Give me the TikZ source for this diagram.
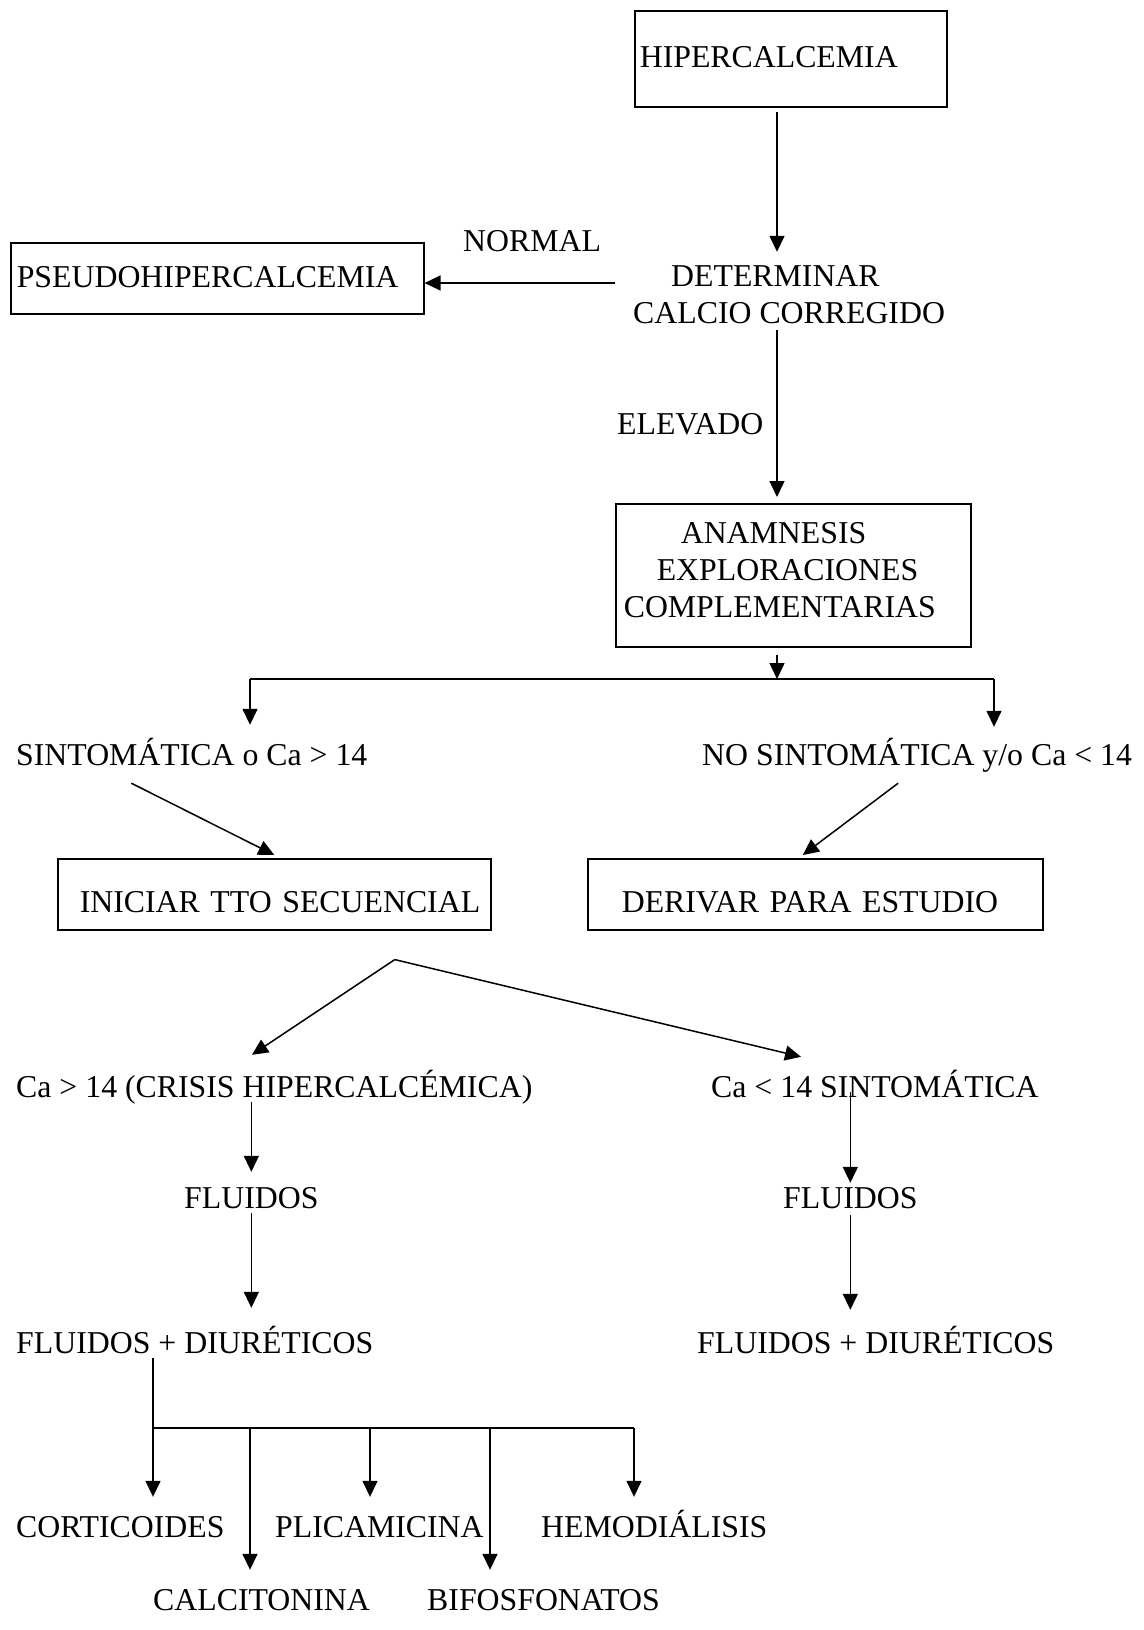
\documentclass[tikz,border=0pt]{standalone}
\usepackage{fontspec}
\setmainfont{Liberation Serif}
\usetikzlibrary{arrows.meta}
\newcommand\myfs{\fontsize{31.8pt}{37pt}\selectfont}
\begin{document}
\begin{tikzpicture}[x=1pt,y=-1pt,
  txt/.style={font=\myfs, inner sep=0pt, anchor=base west, text height=21pt, text depth=0pt},
  box/.style={draw, line width=1.6pt, inner sep=0pt, anchor=north west, align=left, font=\myfs, text depth=0pt},
  arr/.style={line width=1.5pt, -{Triangle[length=16pt,width=15pt]}},
  ln/.style={line width=1.5pt}]
\useasboundingbox (0,0) rectangle (1143,1630);
\coordinate (colx) at (777,0);

% boxes
\node[box, minimum width=312pt, minimum height=96pt, text width=312pt, text height=17pt] (hiper) at (634,10) {\hspace*{5pt}HIPERCALCEMIA};
\node[box, minimum width=413pt, minimum height=71pt, text width=413pt, text height=18pt] (pseudo) at (10,242) {\hspace*{6pt}PSEUDOHIPERCALCEMIA};
\node[box, minimum width=355pt, minimum height=143pt, text width=355pt, text height=21pt, text depth=84pt] (anam) at (615,503) {\hspace*{65pt}ANAMNESIS\\\hspace*{41pt}EXPLORACIONES\\\hspace*{8pt}COMPLEMENTARIAS};
\node[box, minimum width=433pt, minimum height=71pt, text width=433pt, text height=36pt] (ini) at (57,858) {\hspace*{22pt}INICIAR TTO SECUENCIAL};
\node[box, minimum width=455pt, minimum height=71pt, text width=455pt, text height=36pt] (der) at (587,858) {\hspace*{34pt}DERIVAR PARA ESTUDIO};

% texts
\node[txt] (normal) at (463,251.5) {NORMAL};
\node[txt] (det1) at (671,286.5) {DETERMINAR};
\node[txt] (det2) at (633,323.5) {CALCIO CORREGIDO};
\node[txt] (elev) at (617,434.5) {ELEVADO};
\node[txt] (sint) at (16,765.5) {SINTOMÁTICA o Ca > 14};
\node[txt] (nosint) at (702,765.5) {NO SINTOMÁTICA y/o Ca < 14};
\node[txt] (crisis) at (16,1097) {Ca > 14 (CRISIS HIPERCALCÉMICA)};
\node[txt] (ca14) at (711,1097) {Ca < 14 SINTOMÁTICA};
\node[txt] (flu1) at (184,1208) {FLUIDOS};
\node[txt] (flu2) at (783,1208) {FLUIDOS};
\node[txt] (fd1) at (16,1353.5) {FLUIDOS + DIURÉTICOS};
\node[txt] (fd2) at (697,1353.5) {FLUIDOS + DIURÉTICOS};
\node[txt] (cort) at (16,1537.5) {CORTICOIDES};
\node[txt] (plic) at (275,1537.5) {PLICAMICINA};
\node[txt] (hemo) at (541,1537.5) {HEMODIÁLISIS};
\node[txt] (calc) at (153,1610.5) {CALCITONINA};
\node[txt] (bifo) at (427,1610.5) {BIFOSFONATOS};

% top column
\draw[arr] ([yshift=-4pt]hiper.south -| colx) -- ([yshift=13.5pt]det1.north -| colx);
\draw[arr] ([xshift=-56pt,yshift=-7pt]det1.west) coordinate (n0) -- (pseudo.east |- n0);
\draw[arr] ([yshift=-6.5pt]det2.south -| colx) -- ([yshift=6pt]anam.north -| colx);

% first branch
\coordinate (jc) at (777,679);
\coordinate (jl) at (250,679);
\coordinate (jr) at (994,679);
\draw[arr] ([yshift=-7pt]anam.south -| colx) -- (jc);
\draw[ln] (jl) -- (jr);
\draw[arr] (jl) -- ([yshift=19.5pt]sint.north -| jl);
\draw[arr] (jr) -- ([yshift=17.5pt]nosint.north -| jr);

% diagonals to boxes
\draw[arr] ([xshift=-60.5pt,yshift=-17.5pt]sint.south) -- ([yshift=3pt]ini.north);
\draw[arr] ([xshift=-19pt,yshift=-17.5pt]nosint.south) -- ([xshift=-12.5pt,yshift=3pt]der.north);

% second split
\coordinate (apex) at ([xshift=120.5pt,yshift=-29pt]ini.south);
\draw[arr] (apex) -- ([xshift=236pt,yshift=21pt]crisis.north west);
\draw[arr] (apex) -- ([xshift=90pt,yshift=19pt]ca14.north west);

% left column
\draw[arr] ([yshift=-5pt]crisis.south -| flu1.north) -- ([yshift=15pt]flu1.north);
\draw[arr] ([yshift=-5pt]flu1.south) -- ([yshift=24.5pt]fd1.north -| flu1.south);

% right column
\draw[arr] ([yshift=5pt]ca14.south -| flu2.north) -- ([yshift=4pt]flu2.north);
\draw[arr] ([yshift=-7pt]flu2.south) -- ([yshift=22.5pt]fd2.north -| flu2.south);

% bottom bus
\coordinate (k1) at (153,1428);
\coordinate (k2) at (250,1428);
\coordinate (k3) at (370,1428);
\coordinate (k4) at (490,1428);
\coordinate (k5) at (634,1428);
\draw[ln] ([yshift=-4.5pt]fd1.south -| k1) -- (k1) -- (k5);
\draw[arr] (k1) -- ([yshift=19.5pt]cort.north -| k1);
\draw[arr] (k2) -- ([yshift=19.5pt]calc.north -| k2);
\draw[arr] (k3) -- ([yshift=19.5pt]plic.north -| k3);
\draw[arr] (k4) -- ([yshift=19.5pt]bifo.north -| k4);
\draw[arr] (k5) -- ([yshift=19.5pt]hemo.north -| k5);
\end{tikzpicture}
\end{document}
